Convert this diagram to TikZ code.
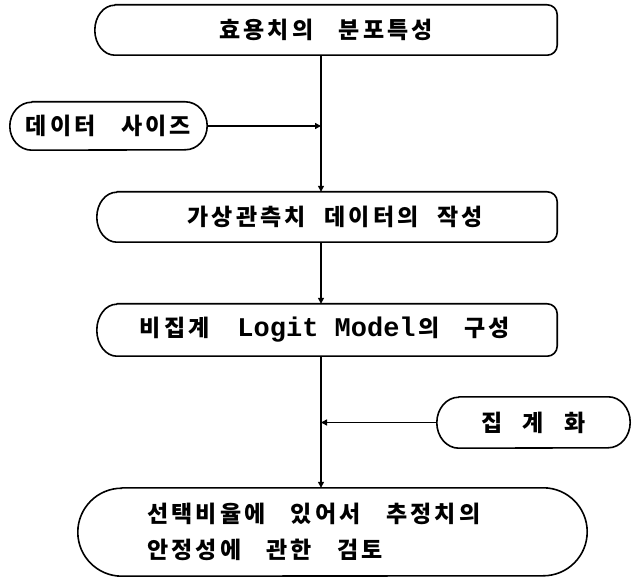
\documentclass[tikz,border=0pt]{standalone}
\usepackage{fontspec}
\newfontfamily\ko{Noto Sans CJK KR}[LetterSpace=14]
\newfontfamily\mono{Liberation Mono}
\usetikzlibrary{arrows.meta}
\tikzset{
  boxnode/.style={inner sep=0pt, font=\ko\bfseries\fontsize{23}{27}\selectfont},
  outl/.style={line width=1.6pt, line join=round},
  conn/.style={line width=1.4pt},
  tip/.style={-{Triangle[length=6pt,width=6pt]}}
}
\begin{document}
\begin{tikzpicture}[x=1pt,y=1pt]
\useasboundingbox (0,0) rectangle (632,-577);
\coordinate (sp) at (321,0);
% box 1
\node[boxnode, minimum width=462pt, minimum height=50pt] (b1) at (326,-30) {효용치의\hspace{1.1em}분포특성};
\draw[outl] ([xshift=20pt]b1.north west) -- ([xshift=-10pt]b1.north east) arc[start angle=90,end angle=0,radius=10pt] -- ([yshift=10pt]b1.south east) arc[start angle=0,end angle=-90,radius=10pt] -- ([xshift=20pt]b1.south west) arc[start angle=270,end angle=90,x radius=20pt,y radius=25pt] -- cycle;
% data size
\node[boxnode, minimum width=197pt, minimum height=48pt] (ds) at (108.5,-126) {데이터\hspace{1.1em}사이즈};
\draw[outl] ([xshift=22pt]ds.north west) -- ([xshift=-22pt]ds.north east) arc[start angle=90,end angle=-90,x radius=22pt,y radius=24pt] -- ([xshift=22pt]ds.south west) arc[start angle=270,end angle=90,x radius=22pt,y radius=24pt] -- cycle;
% box 2
\node[boxnode, minimum width=460pt, minimum height=50pt] (b2) at (327,-217) {\hspace*{16pt}가상관측치\hspace{0.8em}데이터의\hspace{0.8em}작성};
\draw[outl] ([xshift=20pt]b2.north west) -- ([xshift=-10pt]b2.north east) arc[start angle=90,end angle=0,radius=10pt] -- ([yshift=10pt]b2.south east) arc[start angle=0,end angle=-90,radius=10pt] -- ([xshift=20pt]b2.south west) arc[start angle=270,end angle=90,x radius=20pt,y radius=25pt] -- cycle;
% box 3
\node[boxnode, minimum width=460pt, minimum height=52pt] (b3) at (327,-330) {\hspace*{-4pt}비집계\hspace{1.2em}{\mono\bfseries\fontsize{27}{27}\selectfont Logit Model}\hspace{0.1em}의\hspace{1.1em}구성};
\draw[outl] ([xshift=20pt]b3.north west) -- ([xshift=-10pt]b3.north east) arc[start angle=90,end angle=0,radius=10pt] -- ([yshift=10pt]b3.south east) arc[start angle=0,end angle=-90,radius=10pt] -- ([xshift=20pt]b3.south west) arc[start angle=270,end angle=90,x radius=20pt,y radius=26pt] -- cycle;
% aggregation
\node[boxnode, minimum width=193pt, minimum height=51pt] (ag) at (533.5,-422.5) {집\hspace{0.9em}계\hspace{0.9em}화};
\draw[outl] ([xshift=22pt]ag.north west) -- ([xshift=-22pt]ag.north east) arc[start angle=90,end angle=-90,x radius=22pt,y radius=25.5pt] -- ([xshift=22pt]ag.south west) arc[start angle=270,end angle=90,x radius=22pt,y radius=25.5pt] -- cycle;
% box 4
\node[boxnode, minimum height=88pt, text width=371pt, inner xsep=69pt, align=left, font=\ko\bfseries\fontsize{23}{36}\selectfont] (b4) at (332.5,-532) {선택비율에\hspace{1.1em}있어서\hspace{1.1em}추정치의\\안정성에\hspace{1.1em}관한\hspace{1.1em}검토};
\draw[outl] ([xshift=44pt]b4.north west) -- ([xshift=-44pt]b4.north east) arc[start angle=90,end angle=-90,x radius=44pt,y radius=44pt] -- ([xshift=44pt]b4.south west) arc[start angle=270,end angle=90,x radius=44pt,y radius=44pt] -- cycle;
% connectors
\draw[conn,tip] (b1.south -| sp) -- (b2.north -| sp);
\draw[conn,tip] (ds.east) -- (ds.east -| sp);
\draw[conn,tip] (b2.south -| sp) -- (b3.north -| sp);
\draw[conn,tip] (b3.south -| sp) -- (b4.north -| sp);
\draw[conn,tip] (ag.west) -- (ag.west -| sp);
\end{tikzpicture}
\end{document}
